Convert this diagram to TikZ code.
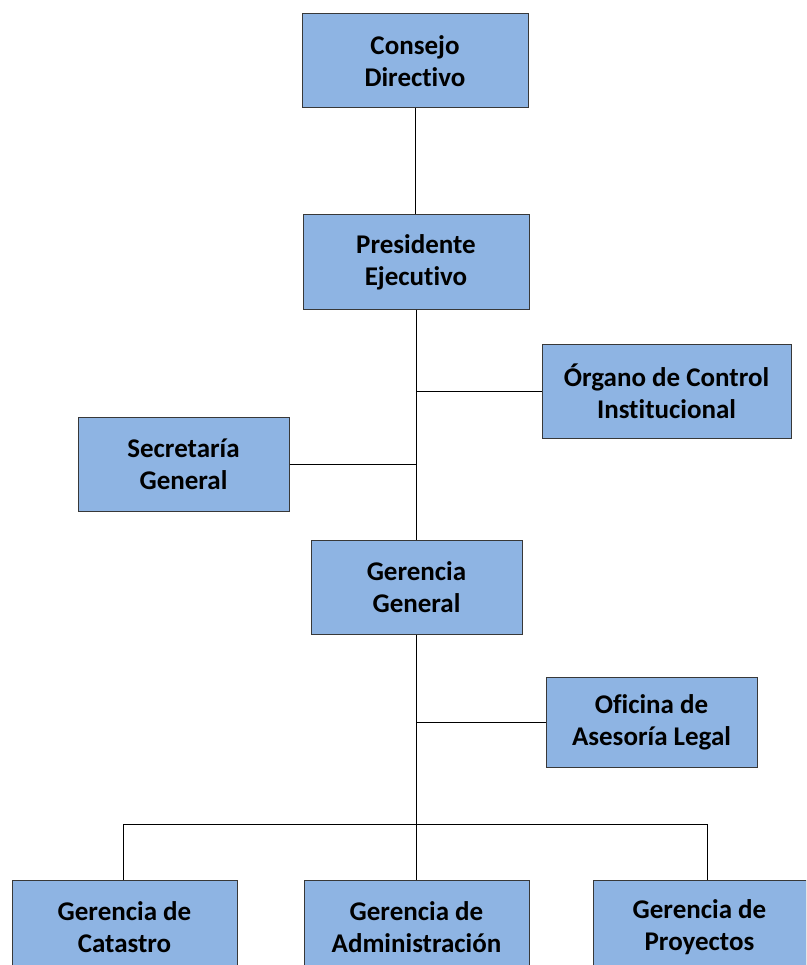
\documentclass[tikz,border=0pt]{standalone}
\usepackage{fontspec}
\setmainfont{Carlito}[Ligatures={NoCommon,NoContextual}, Contextuals=NoAlternate]
\definecolor{boxblue}{RGB}{142,180,227}
\definecolor{boxline}{RGB}{56,56,56}

\begin{document}
\begin{tikzpicture} [x=1pt, y=-1pt]
    \tikzstyle{every node} = [align=center, font=\fontsize{27}{32}\selectfont\bfseries]
    \tikzstyle{unit} = [draw=boxline, fill=boxblue, line width=1pt, inner sep=0pt, minimum height=94pt]
    \tikzstyle{link} = [line width=1pt]
    \useasboundingbox (0,0) rectangle (806,965);
    \clip (0,0) rectangle (806,965);

    \node [unit, minimum width=226pt] (consejo) at (415,61) {Consejo\\Directivo};
    \node [unit, minimum width=226pt] (presidente) at (416,262) {Presidente\\Ejecutivo};
    \node [unit, minimum width=249pt] (organo) at (666.5,391) {Órgano de Control\\Institucional};
    \node [unit, minimum width=211pt] (secretaria) at (183.5,464) {Secretaría\\General};
    \node [unit, minimum width=211pt] (gerencia) at (416.5,587.5) {Gerencia\\General};
    \node [unit, minimum width=211pt, minimum height=90pt] (oficina) at (651.5,722) {Oficina de\\Asesoría Legal};
    \node [unit, minimum width=225pt, minimum height=95pt] (catastro) at (124.5,927.5) {Gerencia de\\Catastro};
    \node [unit, minimum width=225pt, minimum height=95pt] (admin) at (416.5,927.5) {Gerencia de\\Administración};
    \node [unit, minimum width=213pt, minimum height=95pt] (proyectos) at (699.5,927.5) {Gerencia de\\Proyectos};

    % trunk and side branches
    \draw [link] (consejo.south) -- (consejo.south |- presidente.north);
    \draw [link] (presidente.south) -- (presidente.south |- gerencia.north);
    \draw [link] (organo.west) -- (organo.west -| presidente.south);
    \draw [link] (secretaria.east) -- (secretaria.east -| presidente.south);
    \draw [link] (oficina.west) -- (oficina.west -| gerencia.south);

    % bottom row
    \coordinate (busL) at (123,824);
    \coordinate (busR) at (707,824);
    \draw [link] (gerencia.south) -- (gerencia.south |- admin.north);
    \draw [link] (busL) -- (busR);
    \draw [link] (busL) -- (busL |- catastro.north);
    \draw [link] (busR) -- (busR |- proyectos.north);
\end{tikzpicture}
\end{document}
